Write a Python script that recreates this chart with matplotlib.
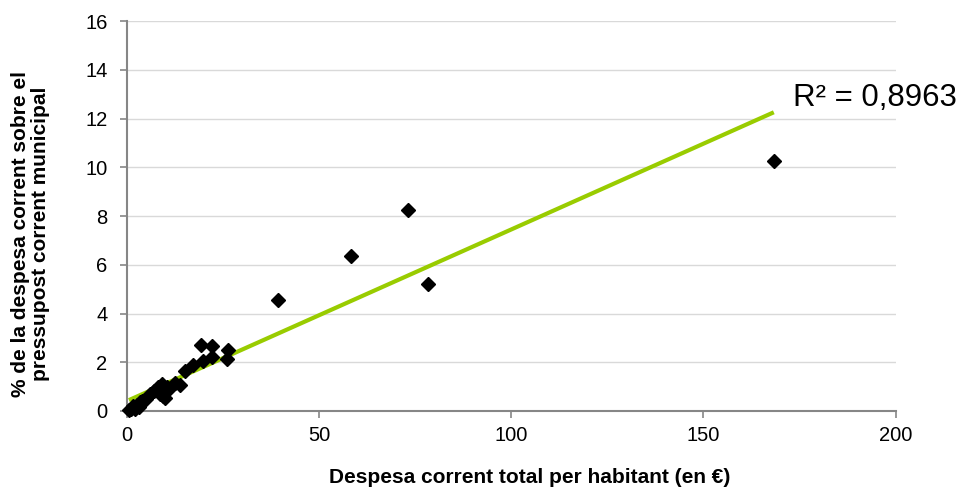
import matplotlib
matplotlib.use("Agg")
import matplotlib.pyplot as plt
import numpy as np

plt.rcParams["font.family"] = ["Liberation Sans", "DejaVu Sans"]

# ── dades llegides del gràfic ──
despesa_hab = [0.5, 1.0, 1.5, 2.0, 2.5, 3.0, 3.5, 4.0, 5.0, 6.0, 7.0, 8.0,
               8.5, 9.0, 9.5, 10.0, 10.5, 11.0, 12.5, 13.8, 15.1, 17.2,
               19.2, 19.8, 22.1, 22.1, 26.3, 26.0, 39.3, 58.3, 73.1, 78.3, 168.3]
pct_pressupost = [0.05, 0.1, 0.2, 0.1, 0.25, 0.15, 0.35, 0.4, 0.5, 0.7, 0.8, 1.0,
                  0.7, 1.1, 0.6, 0.55, 1.0, 0.9, 1.15, 1.07, 1.64, 1.89,
                  2.71, 2.05, 2.67, 2.2, 2.5, 2.15, 4.55, 6.36, 8.25, 5.21, 10.26]

# recta de tendència (llegida)
trend_intercept = 0.41
trend_slope = 0.0704
r2_text = "R² = 0,8963"

x_ticks = [0, 50, 100, 150, 200]
y_ticks = [0, 2, 4, 6, 8, 10, 12, 14, 16]

fig = plt.figure(figsize=(9.62, 4.91), dpi=100)
ax = fig.add_axes([0.132, 0.163, 0.799, 0.794])

ax.set_xlim(0, 200)
ax.set_ylim(0, 16)
ax.set_xticks(x_ticks)
ax.set_yticks(y_ticks)
ax.yaxis.grid(True, color="#d9d9d9", linewidth=1)
ax.set_axisbelow(True)

for s in ["top", "right"]:
    ax.spines[s].set_visible(False)
for s in ["left", "bottom"]:
    ax.spines[s].set_color("#868686")
    ax.spines[s].set_linewidth(1.5)
ax.tick_params(axis="both", colors="#868686", length=5, width=1.2,
               labelsize=14.5, labelcolor="black")
ax.tick_params(axis="x", pad=6)
ax.tick_params(axis="y", pad=9)

# línia de tendència
xt = np.array([min(despesa_hab), max(despesa_hab)])
ax.plot(xt, trend_intercept + trend_slope * xt, color="#99CC00",
        linewidth=3, solid_capstyle="butt", zorder=2)

ax.plot(despesa_hab, pct_pressupost, linestyle="none", marker="D",
        markersize=7, color="black", zorder=3, clip_on=False)

fig.text(0.824, 0.80, r2_text, fontsize=22.5, ha="left", va="center")

fig.text(0.551, 0.0285, "Despesa corrent total per habitant (en €)",
         fontsize=15, fontweight="bold", ha="center", va="center")
fig.text(0.032, 0.523, "% de la despesa corrent sobre el\npressupost corrent municipal",
         fontsize=15, fontweight="bold", ha="center", va="center",
         rotation=90, linespacing=1.05)

fig.savefig("out.png", dpi=100)
